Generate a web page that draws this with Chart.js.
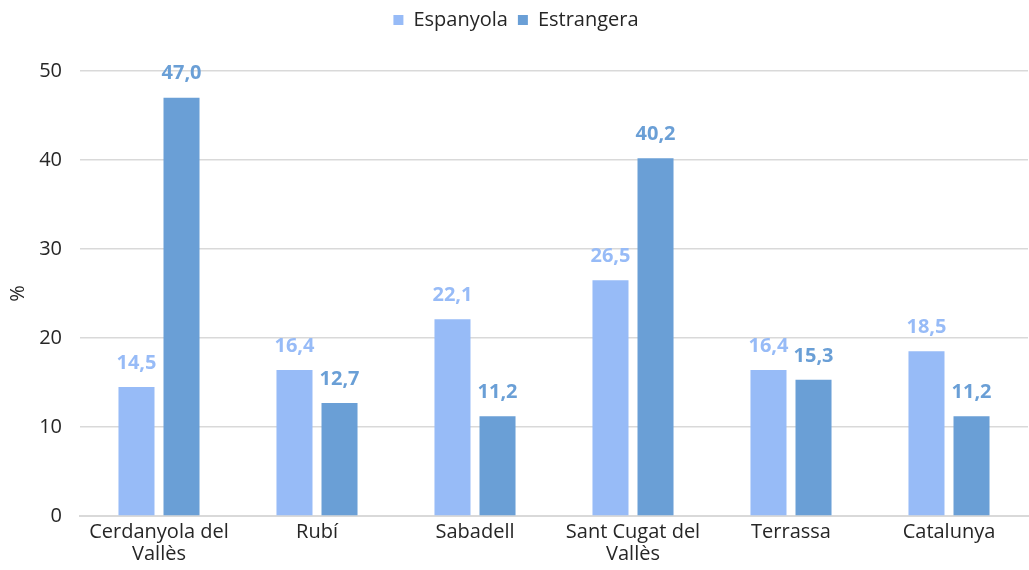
<!DOCTYPE html>
<html>
<head>
<meta charset="utf-8">
<script src="https://cdn.jsdelivr.net/npm/chart.js@4.4.7/dist/chart.umd.min.js"></script>
<style>
  html, body { margin: 0; padding: 0; background: #fff; }
  #wrap { width: 1029px; height: 570px; }
</style>
</head>
<body>
<div id="wrap"><canvas id="chart"></canvas></div>
<script>
  var categories = [["Cerdanyola del", "Vallès"], "Rubí", "Sabadell", ["Sant Cugat del", "Vallès"], "Terrassa", "Catalunya"];
  var espanyola = [14.5, 16.4, 22.1, 26.5, 16.4, 18.5];
  var estrangera = [47.0, 12.7, 11.2, 40.2, 15.3, 11.2];
  var yTicks = [0, 10, 20, 30, 40, 50];

  var FONT = "'Open Sans', Arial, sans-serif";

  // draws the value above each bar, in the colour of its series
  var barLabels = {
    id: "barLabels",
    afterDatasetsDraw: function (chart) {
      var ctx = chart.ctx;
      ctx.save();
      ctx.font = "bold 20px " + FONT;
      ctx.textAlign = "center";
      ctx.textBaseline = "middle";
      chart.data.datasets.forEach(function (ds, i) {
        var meta = chart.getDatasetMeta(i);
        ctx.fillStyle = ds.labelColor;
        meta.data.forEach(function (bar, j) {
          var txt = ds.data[j].toFixed(1).replace(".", ",");
          ctx.fillText(txt, bar.x, bar.y - 24);
        });
      });
      ctx.restore();
    }
  };

  // extra room between the legend and the plot
  var legendGap = {
    id: "legendGap",
    beforeInit: function (chart) {
      var fit = chart.legend.fit;
      chart.legend.fit = function () {
        fit.bind(chart.legend)();
        this.height += 31;
      };
    }
  };

  new Chart(document.getElementById("chart"), {
    type: "bar",
    data: {
      labels: categories,
      datasets: [{
        label: "Espanyola",
        data: espanyola,
        backgroundColor: "#97bbf7",
        labelColor: "#97bbf7",
        barPercentage: 0.8,
        categoryPercentage: 0.57,
      }, {
        label: "Estrangera",
        data: estrangera,
        backgroundColor: "#6a9fd6",
        labelColor: "#6a9fd6",
        barPercentage: 0.8,
        categoryPercentage: 0.57,
      }],
    },
    options: {
      responsive: true,
      maintainAspectRatio: false,
      animation: false,
      layout: { padding: { top: 0, right: 1, left: 4, bottom: 0 } },
      plugins: {
        legend: {
          position: "top",
          labels: {
            boxWidth: 10,
            boxHeight: 10,
            padding: 10,
            color: "#262626",
            font: { family: FONT, size: 20 },
          },
        },
        tooltip: { enabled: false },
      },
      scales: {
        x: {
          grid: { display: false, drawTicks: false },
          border: { color: "#d9d9d9", width: 2 },
          ticks: { color: "#262626", font: { family: FONT, size: 20, lineHeight: 1.1 }, padding: 5, maxRotation: 0 },
        },
        y: {
          min: 0,
          max: 50,
          afterBuildTicks: function (axis) {
            axis.ticks = yTicks.map(function (v) { return { value: v }; });
          },
          afterFit: function (axis) {
            axis.width = 76;
          },
          grid: { color: "#d9d9d9", lineWidth: 1.5, drawTicks: false },
          border: { display: false },
          ticks: { color: "#262626", font: { family: FONT, size: 20 }, padding: 18 },
          title: { display: true, text: "%", color: "#262626", font: { family: FONT, size: 20 }, padding: 2 },
        },
      },
    },
    plugins: [barLabels, legendGap],
  });
</script>
</body>
</html>
